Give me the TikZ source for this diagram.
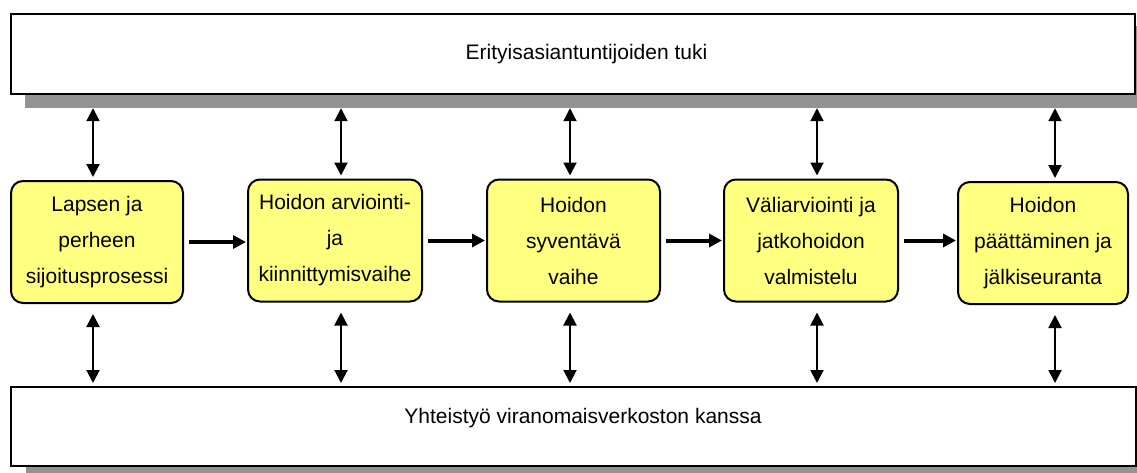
\documentclass[tikz,border=0pt]{standalone}
\usepackage{fontspec}
\setmainfont{Liberation Sans}
\usetikzlibrary{arrows.meta}
\definecolor{boxyellow}{RGB}{255,255,128}
\definecolor{shadowgray}{RGB}{147,147,147}
\begin{document}
\begin{tikzpicture}[x=1pt,y=-1pt,
  band/.style={draw=black,line width=2pt,fill=white,inner sep=0pt},
  bandshadow/.style={fill=shadowgray,inner sep=0pt,minimum width=1126pt,minimum height=82pt},
  bandtext/.style={anchor=base,inner sep=0pt,font=\fontsize{21}{25}\selectfont},
  phase/.style={draw=black,line width=2pt,fill=boxyellow,rounded corners=12pt,
    minimum width=172pt,minimum height=122pt,inner sep=0pt,align=center,
    font=\fontsize{21}{36}\selectfont},
  flow/.style={line width=4pt,-{Triangle[length=13pt,width=13pt]},shorten <=5pt,shorten >=1pt},
  link/.style={line width=2pt,{Triangle[length=13pt,width=13pt]}-{Triangle[length=13pt,width=13pt]}},
]
\useasboundingbox (0,0) rectangle (1137,472);
% top band
\node[bandshadow] (topshadow) at (588,67) {};
\node[band,minimum width=1124pt,minimum height=80pt] (topband) at (573,54) {};
\node[bandtext] (toptext) at (586.5,59) {Erityisasiantuntijoiden tuki};
% bottom band
\node[bandshadow] (botshadow) at (588.5,439.5) {};
\node[band,minimum width=1125pt,minimum height=79pt] (botband) at (573.5,426.5) {};
\node[bandtext] (bottext) at (583,423) {Yhteistyö viranomaisverkoston kanssa};
% phases
\node[phase] (b1) at (97,242) {Lapsen ja\\perheen\\sijoitusprosessi};
\node[phase,minimum width=174pt] (b2) at (335,240.5) {Hoidon arviointi-\\ja\\kiinnittymisvaihe};
\node[phase,minimum width=173pt] (b3) at (573.5,240.5) {Hoidon\\syventävä\\vaihe};
\node[phase,minimum width=174pt] (b4) at (811,240.5) {Väliarviointi ja\\jatkohoidon\\valmistelu};
\node[phase,minimum width=170pt] (b5) at (1043,243) {Hoidon\\päättäminen ja\\jälkiseuranta};
% arrow columns
\coordinate (a1) at (93,0);
\coordinate (a2) at (341,0);
\coordinate (a3) at (570,0);
\coordinate (a4) at (817,0);
\coordinate (a5) at (1055,0);
% flow arrows
\draw[flow] (b1.east) -- (b2.west |- b1.east);
\draw[flow] (b2.east) -- (b3.west |- b2.east);
\draw[flow] (b3.east) -- (b4.west |- b3.east);
\draw[flow] (b4.east) -- (b5.west |- b4.east);
% links to top band
\foreach \i in {1,...,5}{
  \draw[link,shorten >=3pt] (topshadow.south -| a\i) -- (b\i.north -| a\i);
  \draw[link,shorten <=10pt,shorten >=3pt] (b\i.south -| a\i) -- (botband.north -| a\i);
}
\end{tikzpicture}
\end{document}
